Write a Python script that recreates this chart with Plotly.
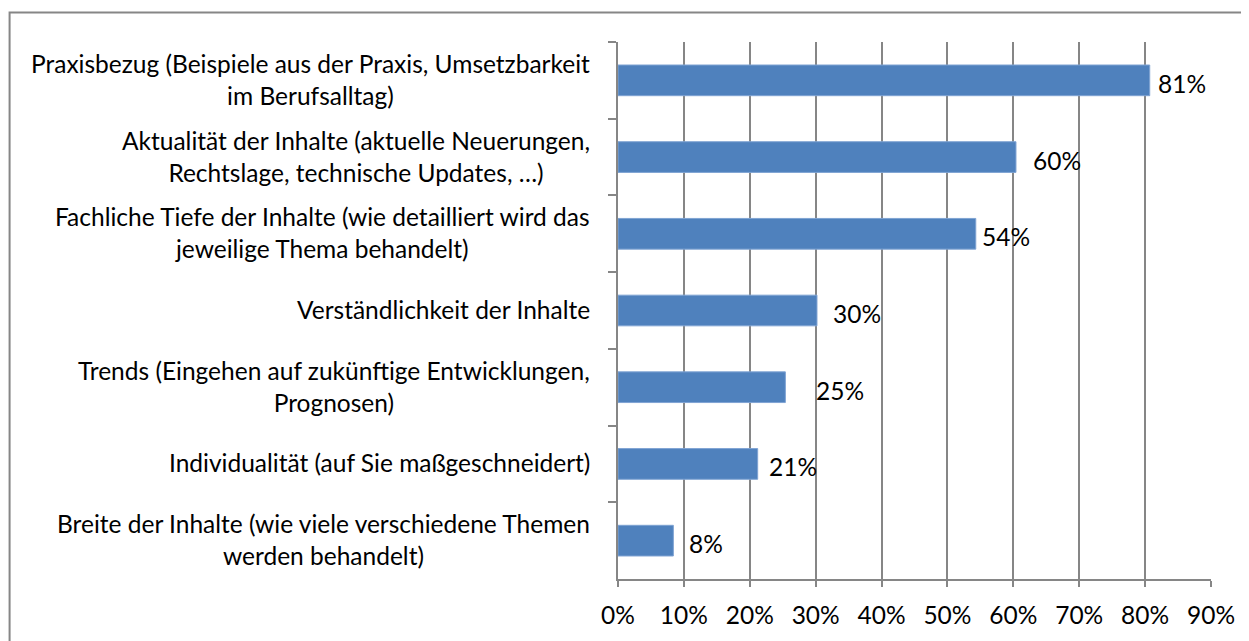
import plotly.graph_objects as go

categories = [
    "Praxisbezug (Beispiele aus der Praxis, Umsetzbarkeit<br>im Berufsalltag)",
    "Aktualität der Inhalte (aktuelle Neuerungen,<br>Rechtslage, technische Updates, …)",
    "Fachliche Tiefe der Inhalte (wie detailliert wird das<br>jeweilige Thema behandelt)",
    "Verständlichkeit der Inhalte",
    "Trends (Eingehen auf zukünftige Entwicklungen,<br>Prognosen)",
    "Individualität (auf Sie maßgeschneidert)",
    "Breite der Inhalte (wie viele verschiedene Themen<br>werden behandelt)",
]
values = [80.7, 60.4, 54.3, 30.2, 25.4, 21.2, 8.4]
value_labels = ["81%", "60%", "54%", "30%", "25%", "21%", "8%"]
x_ticks = [0, 10, 20, 30, 40, 50, 60, 70, 80, 90]
x_ticklabels = ["0%", "10%", "20%", "30%", "40%", "50%", "60%", "70%", "80%", "90%"]

# gap between bar end and its data label (the source chart is uneven)
label_gap = [6, 15, 4, 14, 29, 9, 14]

FONT = "Lato"
FS = 24.5
GREY = "#868686"

fig = go.Figure(
    go.Bar(
        x=values,
        y=categories,
        orientation="h",
        marker=dict(color="#4F81BD", line=dict(color="#7FA3D3", width=1)),
        hoverinfo="skip",
    )
)

annotations = []
for cat, v, lab, gap in zip(categories, values, value_labels, label_gap):
    annotations.append(dict(
        x=v, y=cat, xref="x", yref="y", text=lab, showarrow=False,
        xanchor="left", yanchor="middle", xshift=gap, yshift=-3,
        font=dict(family=FONT, size=FS, color="black"),
    ))
    annotations.append(dict(
        x=0, y=cat, xref="paper", yref="y", text=cat, showarrow=False,
        xanchor="right", yanchor="middle", align="center", xshift=-26, yshift=1,
        font=dict(family=FONT, size=FS, color="black"),
    ))

# the page body adds an 8px margin, so the figure is 8px smaller
fig.update_layout(
    width=1241,
    height=633,
    margin=dict(l=610, r=38, t=34, b=59),
    paper_bgcolor="white",
    plot_bgcolor="white",
    bargap=0.6,
    showlegend=False,
    annotations=annotations,
    font=dict(family=FONT, size=FS, color="black"),
    xaxis=dict(
        range=[0, 90],
        tickvals=x_ticks,
        ticktext=x_ticklabels,
        showgrid=True,
        gridcolor=GREY,
        gridwidth=1.5,
        showline=True,
        linecolor=GREY,
        linewidth=1.5,
        ticks="outside",
        ticklen=6,
        tickcolor=GREY,
        tickwidth=1.5,
        ticklabelstandoff=8,
        zeroline=False,
        fixedrange=True,
    ),
    yaxis=dict(
        autorange="reversed",
        showticklabels=False,
        showline=True,
        linecolor=GREY,
        linewidth=1.5,
        ticks="outside",
        tickson="boundaries",
        ticklen=8,
        tickcolor=GREY,
        tickwidth=1.5,
        showgrid=False,
        fixedrange=True,
    ),
    shapes=[
        dict(type="rect", xref="paper", yref="paper",
             x0=-1.026, x1=1.5, y0=-0.5, y1=1.055,
             line=dict(color=GREY, width=2), fillcolor="rgba(0,0,0,0)", layer="below"),
    ],
)

fig.write_html("out.html", config={"displayModeBar": False})
